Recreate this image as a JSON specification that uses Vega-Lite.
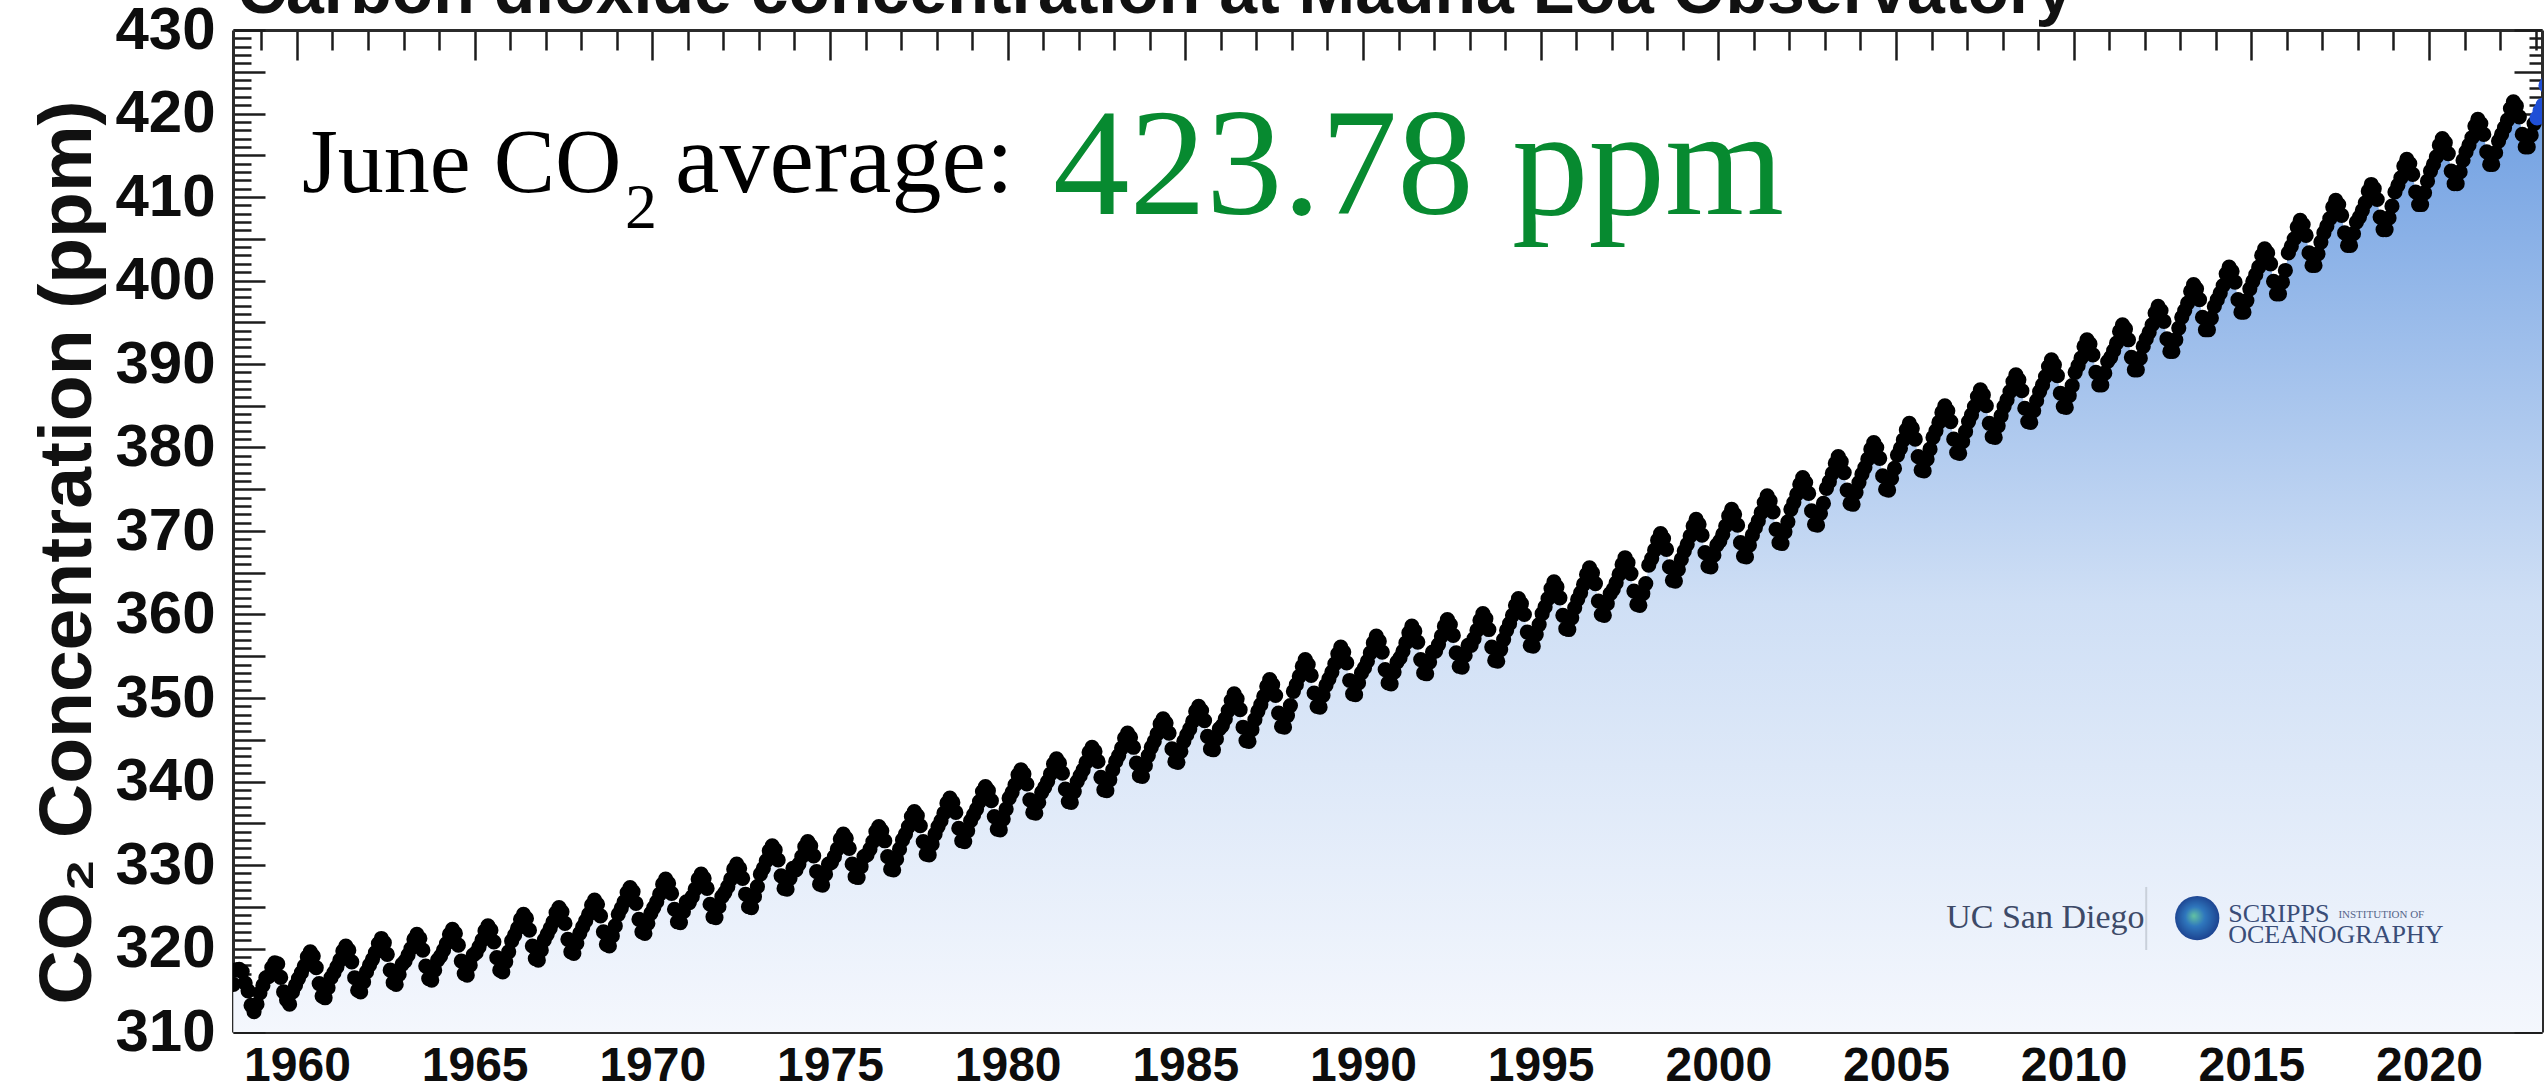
{
  "$schema": "https://vega.github.io/schema/vega-lite/v6.json",
  "width": 2309,
  "height": 1002,
  "autosize": {"type": "none"},
  "padding": {"left": 233, "top": 30, "right": 5, "bottom": 57},
  "background": "#ffffff",
  "config": {
    "view": {"stroke": null},
    "axis": {
      "grid": false,
      "domainColor": "#2b2b2b",
      "domainWidth": 3,
      "tickColor": "#1c1c1c",
      "tickWidth": 2.5,
      "labelFont": "Liberation Sans",
      "labelFontWeight": "bold",
      "labelColor": "#0d0d0d",
      "labelLimit": 0,
      "labelOverlap": false,
      "labelFlush": false,
      "labelBound": false
    }
  },
  "data": {
    "values": "t,v\n1958.208,315.71\n1958.292,317.45\n1958.375,317.51\n1958.458,317.24\n1958.542,315.86\n1958.625,314.93\n1958.708,313.2\n1958.792,312.43\n1958.875,313.33\n1958.958,314.67\n1959.042,315.58\n1959.125,316.49\n1959.208,316.65\n1959.292,317.72\n1959.375,318.29\n1959.458,318.15\n1959.542,316.54\n1959.625,314.8\n1959.708,313.84\n1959.792,313.33\n1959.875,314.81\n1959.958,315.58\n1960.042,316.4\n1960.125,317.1\n1960.208,317.9\n1960.292,319.0\n1960.375,319.6\n1960.458,319.1\n1960.542,317.7\n1960.625,315.8\n1960.708,314.3\n1960.792,314.1\n1960.875,315.3\n1960.958,316.5\n1961.042,317.1\n1961.125,317.8\n1961.208,318.6\n1961.292,319.7\n1961.375,320.3\n1961.458,319.8\n1961.542,318.4\n1961.625,316.5\n1961.708,315.0\n1961.792,314.8\n1961.875,316.0\n1961.958,317.2\n1962.042,318.0\n1962.125,318.7\n1962.208,319.5\n1962.292,320.6\n1962.375,321.2\n1962.458,320.7\n1962.542,319.3\n1962.625,317.4\n1962.708,315.9\n1962.792,315.7\n1962.875,316.9\n1962.958,318.1\n1963.042,318.5\n1963.125,319.2\n1963.208,320.0\n1963.292,321.1\n1963.375,321.7\n1963.458,321.2\n1963.542,319.8\n1963.625,317.9\n1963.708,316.4\n1963.792,316.2\n1963.875,317.4\n1963.958,318.6\n1964.042,319.1\n1964.125,319.8\n1964.208,320.6\n1964.292,321.7\n1964.375,322.3\n1964.458,321.8\n1964.542,320.4\n1964.625,318.5\n1964.708,317.0\n1964.792,316.8\n1964.875,318.0\n1964.958,319.2\n1965.042,319.5\n1965.125,320.2\n1965.208,321.0\n1965.292,322.1\n1965.375,322.7\n1965.458,322.2\n1965.542,320.8\n1965.625,318.9\n1965.708,317.4\n1965.792,317.2\n1965.875,318.4\n1965.958,319.6\n1966.042,320.9\n1966.125,321.6\n1966.208,322.4\n1966.292,323.5\n1966.375,324.1\n1966.458,323.6\n1966.542,322.2\n1966.625,320.3\n1966.708,318.8\n1966.792,318.6\n1966.875,319.8\n1966.958,321.0\n1967.042,321.7\n1967.125,322.4\n1967.208,323.2\n1967.292,324.3\n1967.375,324.9\n1967.458,324.4\n1967.542,323.0\n1967.625,321.1\n1967.708,319.6\n1967.792,319.4\n1967.875,320.6\n1967.958,321.8\n1968.042,322.6\n1968.125,323.3\n1968.208,324.1\n1968.292,325.2\n1968.375,325.8\n1968.458,325.3\n1968.542,323.9\n1968.625,322.0\n1968.708,320.5\n1968.792,320.3\n1968.875,321.5\n1968.958,322.7\n1969.042,324.1\n1969.125,324.8\n1969.208,325.6\n1969.292,326.7\n1969.375,327.3\n1969.458,326.8\n1969.542,325.4\n1969.625,323.5\n1969.708,322.0\n1969.792,321.8\n1969.875,323.0\n1969.958,324.2\n1970.042,324.9\n1970.125,325.6\n1970.208,326.5\n1970.292,327.7\n1970.375,328.3\n1970.458,327.8\n1970.542,326.6\n1970.625,324.7\n1970.708,323.2\n1970.792,323.1\n1970.875,324.4\n1970.958,325.6\n1971.042,325.5\n1971.125,326.2\n1971.208,327.1\n1971.292,328.3\n1971.375,328.9\n1971.458,328.4\n1971.542,327.2\n1971.625,325.3\n1971.708,323.8\n1971.792,323.7\n1971.875,325.0\n1971.958,326.2\n1972.042,326.7\n1972.125,327.4\n1972.208,328.3\n1972.292,329.5\n1972.375,330.1\n1972.458,329.6\n1972.542,328.4\n1972.625,326.5\n1972.708,325.0\n1972.792,324.9\n1972.875,326.2\n1972.958,327.4\n1973.042,328.9\n1973.125,329.6\n1973.208,330.5\n1973.292,331.7\n1973.375,332.3\n1973.458,331.8\n1973.542,330.6\n1973.625,328.7\n1973.708,327.2\n1973.792,327.1\n1973.875,328.4\n1973.958,329.6\n1974.042,329.4\n1974.125,330.1\n1974.208,331.0\n1974.292,332.2\n1974.375,332.8\n1974.458,332.3\n1974.542,331.1\n1974.625,329.2\n1974.708,327.7\n1974.792,327.6\n1974.875,328.9\n1974.958,330.1\n1975.042,330.3\n1975.125,331.0\n1975.208,331.9\n1975.292,333.1\n1975.375,333.7\n1975.458,333.2\n1975.542,332.0\n1975.625,330.1\n1975.708,328.6\n1975.792,328.5\n1975.875,329.8\n1975.958,331.0\n1976.042,331.2\n1976.125,331.9\n1976.208,332.8\n1976.292,334.0\n1976.375,334.6\n1976.458,334.1\n1976.542,332.9\n1976.625,331.0\n1976.708,329.5\n1976.792,329.4\n1976.875,330.7\n1976.958,331.9\n1977.042,333.0\n1977.125,333.7\n1977.208,334.6\n1977.292,335.8\n1977.375,336.4\n1977.458,335.9\n1977.542,334.7\n1977.625,332.8\n1977.708,331.3\n1977.792,331.2\n1977.875,332.5\n1977.958,333.7\n1978.042,334.6\n1978.125,335.3\n1978.208,336.2\n1978.292,337.4\n1978.375,338.0\n1978.458,337.5\n1978.542,336.3\n1978.625,334.4\n1978.708,332.9\n1978.792,332.8\n1978.875,334.1\n1978.958,335.3\n1979.042,336.0\n1979.125,336.7\n1979.208,337.6\n1979.292,338.8\n1979.375,339.4\n1979.458,338.9\n1979.542,337.7\n1979.625,335.8\n1979.708,334.3\n1979.792,334.2\n1979.875,335.5\n1979.958,336.7\n1980.042,338.0\n1980.125,338.7\n1980.208,339.6\n1980.292,340.8\n1980.375,341.4\n1980.458,340.9\n1980.542,339.7\n1980.625,337.8\n1980.708,336.3\n1980.792,336.2\n1980.875,337.5\n1980.958,338.7\n1981.042,339.3\n1981.125,340.0\n1981.208,340.9\n1981.292,342.1\n1981.375,342.7\n1981.458,342.2\n1981.542,341.0\n1981.625,339.1\n1981.708,337.6\n1981.792,337.5\n1981.875,338.8\n1981.958,340.0\n1982.042,340.7\n1982.125,341.4\n1982.208,342.3\n1982.292,343.5\n1982.375,344.1\n1982.458,343.6\n1982.542,342.4\n1982.625,340.5\n1982.708,339.0\n1982.792,338.9\n1982.875,340.2\n1982.958,341.4\n1983.042,342.4\n1983.125,343.1\n1983.208,344.0\n1983.292,345.2\n1983.375,345.8\n1983.458,345.3\n1983.542,344.1\n1983.625,342.2\n1983.708,340.7\n1983.792,340.6\n1983.875,341.9\n1983.958,343.1\n1984.042,344.1\n1984.125,344.8\n1984.208,345.7\n1984.292,346.9\n1984.375,347.5\n1984.458,347.0\n1984.542,345.8\n1984.625,343.9\n1984.708,342.4\n1984.792,342.3\n1984.875,343.6\n1984.958,344.8\n1985.042,345.6\n1985.125,346.3\n1985.208,347.2\n1985.292,348.4\n1985.375,349.0\n1985.458,348.5\n1985.542,347.3\n1985.625,345.4\n1985.708,343.9\n1985.792,343.8\n1985.875,345.1\n1985.958,346.3\n1986.042,346.7\n1986.125,347.5\n1986.208,348.5\n1986.292,349.7\n1986.375,350.5\n1986.458,349.9\n1986.542,348.6\n1986.625,346.5\n1986.708,344.9\n1986.792,344.8\n1986.875,346.2\n1986.958,347.4\n1987.042,348.4\n1987.125,349.2\n1987.208,350.2\n1987.292,351.4\n1987.375,352.2\n1987.458,351.6\n1987.542,350.3\n1987.625,348.2\n1987.708,346.6\n1987.792,346.5\n1987.875,347.9\n1987.958,349.1\n1988.042,350.8\n1988.125,351.6\n1988.208,352.6\n1988.292,353.8\n1988.375,354.6\n1988.458,354.0\n1988.542,352.7\n1988.625,350.6\n1988.708,349.0\n1988.792,348.9\n1988.875,350.3\n1988.958,351.5\n1989.042,352.3\n1989.125,353.1\n1989.208,354.1\n1989.292,355.3\n1989.375,356.1\n1989.458,355.5\n1989.542,354.2\n1989.625,352.1\n1989.708,350.5\n1989.792,350.4\n1989.875,351.8\n1989.958,353.0\n1990.042,353.6\n1990.125,354.4\n1990.208,355.4\n1990.292,356.6\n1990.375,357.4\n1990.458,356.8\n1990.542,355.5\n1990.625,353.4\n1990.708,351.8\n1990.792,351.7\n1990.875,353.1\n1990.958,354.3\n1991.042,354.8\n1991.125,355.6\n1991.208,356.6\n1991.292,357.8\n1991.375,358.6\n1991.458,358.0\n1991.542,356.7\n1991.625,354.6\n1991.708,353.0\n1991.792,352.9\n1991.875,354.3\n1991.958,355.5\n1992.042,355.6\n1992.125,356.4\n1992.208,357.4\n1992.292,358.6\n1992.375,359.4\n1992.458,358.8\n1992.542,357.5\n1992.625,355.4\n1992.708,353.8\n1992.792,353.7\n1992.875,355.1\n1992.958,356.3\n1993.042,356.3\n1993.125,357.1\n1993.208,358.1\n1993.292,359.3\n1993.375,360.1\n1993.458,359.5\n1993.542,358.2\n1993.625,356.1\n1993.708,354.5\n1993.792,354.4\n1993.875,355.8\n1993.958,357.0\n1994.042,358.1\n1994.125,358.9\n1994.208,359.9\n1994.292,361.1\n1994.375,361.9\n1994.458,361.3\n1994.542,360.0\n1994.625,357.9\n1994.708,356.3\n1994.792,356.2\n1994.875,357.6\n1994.958,358.8\n1995.042,360.1\n1995.125,360.9\n1995.208,361.9\n1995.292,363.1\n1995.375,363.9\n1995.458,363.3\n1995.542,362.0\n1995.625,359.9\n1995.708,358.3\n1995.792,358.2\n1995.875,359.6\n1995.958,360.8\n1996.042,361.8\n1996.125,362.6\n1996.208,363.6\n1996.292,364.8\n1996.375,365.6\n1996.458,365.0\n1996.542,363.7\n1996.625,361.6\n1996.708,360.0\n1996.792,359.9\n1996.875,361.3\n1996.958,362.5\n1997.042,363.0\n1997.125,363.8\n1997.208,364.8\n1997.292,366.0\n1997.375,366.8\n1997.458,366.2\n1997.542,364.9\n1997.625,362.8\n1997.708,361.2\n1997.792,361.1\n1997.875,362.5\n1997.958,363.7\n1998.042,365.9\n1998.125,366.7\n1998.208,367.7\n1998.292,368.9\n1998.375,369.7\n1998.458,369.1\n1998.542,367.8\n1998.625,365.7\n1998.708,364.1\n1998.792,364.0\n1998.875,365.4\n1998.958,366.6\n1999.042,367.6\n1999.125,368.4\n1999.208,369.4\n1999.292,370.6\n1999.375,371.4\n1999.458,370.8\n1999.542,369.5\n1999.625,367.4\n1999.708,365.8\n1999.792,365.7\n1999.875,367.1\n1999.958,368.3\n2000.042,368.8\n2000.125,369.6\n2000.208,370.6\n2000.292,371.8\n2000.375,372.6\n2000.458,372.0\n2000.542,370.7\n2000.625,368.6\n2000.708,367.0\n2000.792,366.9\n2000.875,368.3\n2000.958,369.5\n2001.042,370.4\n2001.125,371.2\n2001.208,372.2\n2001.292,373.4\n2001.375,374.2\n2001.458,373.6\n2001.542,372.3\n2001.625,370.2\n2001.708,368.6\n2001.792,368.5\n2001.875,369.9\n2001.958,371.1\n2002.042,372.6\n2002.125,373.4\n2002.208,374.4\n2002.292,375.6\n2002.375,376.4\n2002.458,375.8\n2002.542,374.5\n2002.625,372.4\n2002.708,370.8\n2002.792,370.7\n2002.875,372.1\n2002.958,373.3\n2003.042,375.1\n2003.125,375.9\n2003.208,376.9\n2003.292,378.1\n2003.375,378.9\n2003.458,378.3\n2003.542,377.0\n2003.625,374.9\n2003.708,373.3\n2003.792,373.2\n2003.875,374.6\n2003.958,375.8\n2004.042,376.8\n2004.125,377.6\n2004.208,378.6\n2004.292,379.8\n2004.375,380.6\n2004.458,380.0\n2004.542,378.7\n2004.625,376.6\n2004.708,375.0\n2004.792,374.9\n2004.875,376.3\n2004.958,377.5\n2005.042,379.1\n2005.125,379.9\n2005.208,380.9\n2005.292,382.1\n2005.375,382.9\n2005.458,382.3\n2005.542,381.0\n2005.625,378.9\n2005.708,377.3\n2005.792,377.2\n2005.875,378.6\n2005.958,379.8\n2006.042,381.2\n2006.125,382.0\n2006.208,383.0\n2006.292,384.2\n2006.375,385.0\n2006.458,384.4\n2006.542,383.1\n2006.625,381.0\n2006.708,379.4\n2006.792,379.3\n2006.875,380.7\n2006.958,381.9\n2007.042,383.1\n2007.125,383.9\n2007.208,384.9\n2007.292,386.1\n2007.375,386.9\n2007.458,386.3\n2007.542,385.0\n2007.625,382.9\n2007.708,381.3\n2007.792,381.2\n2007.875,382.6\n2007.958,383.8\n2008.042,384.9\n2008.125,385.7\n2008.208,386.7\n2008.292,387.9\n2008.375,388.7\n2008.458,388.1\n2008.542,386.8\n2008.625,384.7\n2008.708,383.1\n2008.792,383.0\n2008.875,384.4\n2008.958,385.6\n2009.042,386.7\n2009.125,387.5\n2009.208,388.5\n2009.292,389.7\n2009.375,390.5\n2009.458,389.9\n2009.542,388.6\n2009.625,386.5\n2009.708,384.9\n2009.792,384.8\n2009.875,386.2\n2009.958,387.4\n2010.042,389.0\n2010.125,389.8\n2010.208,390.7\n2010.292,392.1\n2010.375,392.9\n2010.458,392.4\n2010.542,391.1\n2010.625,389.0\n2010.708,387.5\n2010.792,387.5\n2010.875,388.9\n2010.958,390.3\n2011.042,390.8\n2011.125,391.6\n2011.208,392.5\n2011.292,393.9\n2011.375,394.7\n2011.458,394.2\n2011.542,392.9\n2011.625,390.8\n2011.708,389.3\n2011.792,389.3\n2011.875,390.7\n2011.958,392.1\n2012.042,393.0\n2012.125,393.8\n2012.208,394.7\n2012.292,396.1\n2012.375,396.9\n2012.458,396.4\n2012.542,395.1\n2012.625,393.0\n2012.708,391.5\n2012.792,391.5\n2012.875,392.9\n2012.958,394.3\n2013.042,395.6\n2013.125,396.4\n2013.208,397.3\n2013.292,398.7\n2013.375,399.5\n2013.458,399.0\n2013.542,397.7\n2013.625,395.6\n2013.708,394.1\n2013.792,394.1\n2013.875,395.5\n2013.958,396.9\n2014.042,397.7\n2014.125,398.5\n2014.208,399.4\n2014.292,400.8\n2014.375,401.6\n2014.458,401.1\n2014.542,399.8\n2014.625,397.7\n2014.708,396.2\n2014.792,396.2\n2014.875,397.6\n2014.958,399.0\n2015.042,399.9\n2015.125,400.7\n2015.208,401.6\n2015.292,403.0\n2015.375,403.8\n2015.458,403.3\n2015.542,402.0\n2015.625,399.9\n2015.708,398.4\n2015.792,398.4\n2015.875,399.8\n2015.958,401.2\n2016.042,403.3\n2016.125,404.1\n2016.208,405.0\n2016.292,406.4\n2016.375,407.2\n2016.458,406.7\n2016.542,405.4\n2016.625,403.3\n2016.708,401.8\n2016.792,401.8\n2016.875,403.2\n2016.958,404.6\n2017.042,405.7\n2017.125,406.5\n2017.208,407.4\n2017.292,408.8\n2017.375,409.6\n2017.458,409.1\n2017.542,407.8\n2017.625,405.7\n2017.708,404.2\n2017.792,404.2\n2017.875,405.6\n2017.958,407.0\n2018.042,407.6\n2018.125,408.4\n2018.208,409.3\n2018.292,410.7\n2018.375,411.5\n2018.458,411.0\n2018.542,409.7\n2018.625,407.6\n2018.708,406.1\n2018.792,406.1\n2018.875,407.5\n2018.958,408.9\n2019.042,410.6\n2019.125,411.4\n2019.208,412.3\n2019.292,413.7\n2019.375,414.5\n2019.458,414.0\n2019.542,412.7\n2019.625,410.6\n2019.708,409.1\n2019.792,409.1\n2019.875,410.5\n2019.958,411.9\n2020.042,413.1\n2020.125,413.9\n2020.208,414.8\n2020.292,416.2\n2020.375,417.0\n2020.458,416.5\n2020.542,415.2\n2020.625,413.1\n2020.708,411.6\n2020.792,411.6\n2020.875,413.0\n2020.958,414.4\n2021.042,415.4\n2021.125,416.2\n2021.208,417.1\n2021.292,418.5\n2021.375,419.3\n2021.458,418.8\n2021.542,417.5\n2021.625,415.4\n2021.708,413.9\n2021.792,413.9\n2021.875,415.3\n2021.958,416.7\n2022.042,417.5\n2022.125,418.3\n2022.208,419.2\n2022.292,420.6\n2022.375,421.4\n2022.458,420.9\n2022.542,419.6\n2022.625,417.5\n2022.708,416.0\n2022.792,416.0\n2022.875,417.4\n2022.958,418.8\n2023.042,419.47\n2023.125,420.31\n2023.208,420.99\n2023.292,423.36\n2023.375,424.0\n2023.458,423.78",
    "format": {"type": "csv", "parse": {"t": "number", "v": "number"}}
  },
  "resolve": {"axis": {"x": "independent", "y": "independent"}},
  "layer": [
    {
      "mark": {
        "type": "area",
        "clip": true,
        "interpolate": "linear",
        "fill": {
          "gradient": "linear",
          "x1": 0, "y1": 1, "x2": 0, "y2": 0,
          "stops": [
            {"offset": 0, "color": "#f4f7fd"},
            {"offset": 0.45, "color": "#cfdff5"},
            {"offset": 1, "color": "#6c9de1"}
          ]
        }
      },
      "encoding": {
        "x": {
          "field": "t", "type": "quantitative",
          "scale": {"domain": [1958.2, 2023.18], "nice": false, "zero": false},
          "axis": {
            "orient": "bottom",
            "title": null,
            "values": [1959,1960,1961,1962,1963,1964,1965,1966,1967,1968,1969,1970,1971,1972,1973,1974,1975,1976,1977,1978,1979,1980,1981,1982,1983,1984,1985,1986,1987,1988,1989,1990,1991,1992,1993,1994,1995,1996,1997,1998,1999,2000,2001,2002,2003,2004,2005,2006,2007,2008,2009,2010,2011,2012,2013,2014,2015,2016,2017,2018,2019,2020,2021,2022,2023],
            "format": "d",
            "labelExpr": "datum.value % 5 === 0 ? datum.label : ''",
            "tickSize": {"condition": {"test": "datum.value % 5 === 0", "value": -30}, "value": -20},
            "labelPadding": 40,
            "labelFontSize": 48,
            "labelBaseline": "top"
          }
        },
        "y": {
          "field": "v", "type": "quantitative",
          "scale": {"domain": [310, 430], "nice": false, "zero": false},
          "axis": {
            "orient": "left",
            "values": [310,311,312,313,314,315,316,317,318,319,320,321,322,323,324,325,326,327,328,329,330,331,332,333,334,335,336,337,338,339,340,341,342,343,344,345,346,347,348,349,350,351,352,353,354,355,356,357,358,359,360,361,362,363,364,365,366,367,368,369,370,371,372,373,374,375,376,377,378,379,380,381,382,383,384,385,386,387,388,389,390,391,392,393,394,395,396,397,398,399,400,401,402,403,404,405,406,407,408,409,410,411,412,413,414,415,416,417,418,419,420,421,422,423,424,425,426,427,428,429,430],
            "format": "d",
            "labelExpr": "datum.value % 10 === 0 ? datum.label : ''",
            "tickSize": {"condition": {"test": "datum.value % 5 === 0", "value": -32}, "value": -18},
            "labelPadding": 50,
            "labelFontSize": 60,
            "labelBaseline": "middle",
            "title": "CO₂ Concentration (ppm)",
            "titleFont": "Liberation Sans",
            "titleFontSize": 75,
            "titleFontWeight": "bold",
            "titleColor": "#111111",
            "titleAngle": 270,
            "titleAlign": "center",
            "titleBaseline": "middle",
            "titleX": -166,
            "titleY": 522
          }
        },
        "y2": {"datum": 310}
      }
    },
    {
      "transform": [{"filter": "datum.t < 2023"}],
      "mark": {"type": "circle", "size": 230, "color": "#000000", "opacity": 1, "clip": true},
      "encoding": {
        "x": {
          "field": "t", "type": "quantitative",
          "scale": {"domain": [1958.2, 2023.18], "nice": false, "zero": false},
          "axis": {
            "orient": "top",
            "title": null,
            "labels": false,
            "values": [1959,1960,1961,1962,1963,1964,1965,1966,1967,1968,1969,1970,1971,1972,1973,1974,1975,1976,1977,1978,1979,1980,1981,1982,1983,1984,1985,1986,1987,1988,1989,1990,1991,1992,1993,1994,1995,1996,1997,1998,1999,2000,2001,2002,2003,2004,2005,2006,2007,2008,2009,2010,2011,2012,2013,2014,2015,2016,2017,2018,2019,2020,2021,2022,2023],
            "tickSize": {"condition": {"test": "datum.value % 5 === 0", "value": -30}, "value": -20}
          }
        },
        "y": {
          "field": "v", "type": "quantitative",
          "scale": {"domain": [310, 430], "nice": false, "zero": false},
          "axis": {
            "orient": "right",
            "title": null,
            "labels": false,
            "values": [310,311,312,313,314,315,316,317,318,319,320,321,322,323,324,325,326,327,328,329,330,331,332,333,334,335,336,337,338,339,340,341,342,343,344,345,346,347,348,349,350,351,352,353,354,355,356,357,358,359,360,361,362,363,364,365,366,367,368,369,370,371,372,373,374,375,376,377,378,379,380,381,382,383,384,385,386,387,388,389,390,391,392,393,394,395,396,397,398,399,400,401,402,403,404,405,406,407,408,409,410,411,412,413,414,415,416,417,418,419,420,421,422,423,424,425,426,427,428,429,430],
            "tickSize": {"condition": {"test": "datum.value % 5 === 0", "value": -28}, "value": -13}
          }
        }
      }
    },
    {
      "transform": [{"filter": "datum.t >= 2023"}],
      "mark": {"type": "circle", "size": 230, "color": "#1f4fd6", "opacity": 1, "clip": true},
      "encoding": {
        "x": {"field": "t", "type": "quantitative", "axis": null},
        "y": {"field": "v", "type": "quantitative", "axis": null}
      }
    },
    {
      "data": {"values": [{}]},
      "mark": {"type": "text", "text": "Carbon dioxide concentration at Mauna Loa Observatory", "font": "Liberation Sans", "fontSize": 68, "fontWeight": "bold", "align": "left", "baseline": "alphabetic", "color": "#111111"},
      "encoding": {
        "x": {"datum": 1958.31, "type": "quantitative", "axis": null},
        "y": {"datum": 432.04, "type": "quantitative", "axis": null}
      }
    },
    {
      "data": {"values": [{}]},
      "mark": {"type": "text", "text": "June CO", "font": "Liberation Serif", "fontSize": 92, "align": "left", "baseline": "alphabetic", "color": "#000000"},
      "encoding": {
        "x": {"datum": 1960.142, "type": "quantitative", "axis": null},
        "y": {"datum": 410.6, "type": "quantitative", "axis": null}
      }
    },
    {
      "data": {"values": [{}]},
      "mark": {"type": "text", "text": "2", "font": "Liberation Serif", "fontSize": 64, "align": "left", "baseline": "alphabetic", "color": "#000000"},
      "encoding": {
        "x": {"datum": 1969.233, "type": "quantitative", "axis": null},
        "y": {"datum": 406.29, "type": "quantitative", "axis": null}
      }
    },
    {
      "data": {"values": [{}]},
      "mark": {"type": "text", "text": "average:", "font": "Liberation Serif", "fontSize": 100, "align": "left", "baseline": "alphabetic", "color": "#000000"},
      "encoding": {
        "x": {"datum": 1970.64, "type": "quantitative", "axis": null},
        "y": {"datum": 410.6, "type": "quantitative", "axis": null}
      }
    },
    {
      "data": {"values": [{}]},
      "mark": {"type": "text", "text": "423.78 ppm", "font": "Liberation Serif", "fontSize": 153, "align": "left", "baseline": "alphabetic", "color": "#078a30"},
      "encoding": {
        "x": {"datum": 1981.279, "type": "quantitative", "axis": null},
        "y": {"datum": 407.96, "type": "quantitative", "axis": null}
      }
    },
    {
      "data": {"values": [{}]},
      "mark": {"type": "text", "text": "UC San Diego", "font": "Liberation Serif", "fontSize": 34, "align": "left", "baseline": "alphabetic", "color": "#3d4a68"},
      "encoding": {
        "x": {"datum": 2006.412, "type": "quantitative", "axis": null},
        "y": {"datum": 322.46, "type": "quantitative", "axis": null}
      }
    },
    {
      "data": {"values": [{}]},
      "mark": {"type": "rule", "color": "#c9d0da", "strokeWidth": 2},
      "encoding": {
        "x": {"datum": 2012.042, "type": "quantitative", "axis": null},
        "y": {"datum": 327.37, "type": "quantitative", "axis": null},
        "y2": {"datum": 319.82}
      }
    },
    {
      "data": {"values": [{}]},
      "mark": {
        "type": "point", "shape": "circle", "filled": true, "size": 1960, "opacity": 1,
        "fill": {
          "gradient": "radial",
          "x1": 0.42, "y1": 0.45, "r1": 0,
          "x2": 0.5, "y2": 0.5, "r2": 0.55,
          "stops": [
            {"offset": 0, "color": "#63c3a2"},
            {"offset": 0.4, "color": "#2f77bd"},
            {"offset": 1, "color": "#1a3c8a"}
          ]
        }
      },
      "encoding": {
        "x": {"datum": 2013.477, "type": "quantitative", "axis": null},
        "y": {"datum": 323.65, "type": "quantitative", "axis": null}
      }
    },
    {
      "data": {"values": [{}]},
      "mark": {"type": "text", "text": "SCRIPPS", "font": "Liberation Serif", "fontSize": 26, "align": "left", "baseline": "alphabetic", "color": "#3a4d78"},
      "encoding": {
        "x": {"datum": 2014.349, "type": "quantitative", "axis": null},
        "y": {"datum": 323.17, "type": "quantitative", "axis": null}
      }
    },
    {
      "data": {"values": [{}]},
      "mark": {"type": "text", "text": "INSTITUTION OF", "font": "Liberation Serif", "fontSize": 11, "align": "left", "baseline": "alphabetic", "color": "#56668a"},
      "encoding": {
        "x": {"datum": 2017.45, "type": "quantitative", "axis": null},
        "y": {"datum": 323.65, "type": "quantitative", "axis": null}
      }
    },
    {
      "data": {"values": [{}]},
      "mark": {"type": "text", "text": "OCEANOGRAPHY", "font": "Liberation Serif", "fontSize": 26, "align": "left", "baseline": "alphabetic", "color": "#3a4d78"},
      "encoding": {
        "x": {"datum": 2014.349, "type": "quantitative", "axis": null},
        "y": {"datum": 320.6, "type": "quantitative", "axis": null}
      }
    }
  ]
}
